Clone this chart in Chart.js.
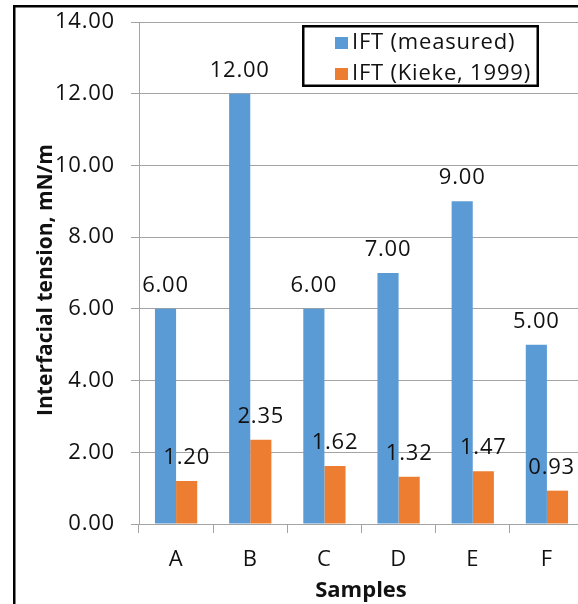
<!DOCTYPE html>
<html>
<head>
<meta charset="utf-8">
<script src="https://cdn.jsdelivr.net/npm/chart.js@4"></script>
<style>
  html, body { margin: 0; padding: 0; overflow: hidden; background: #fff; width: 578px; height: 604px; }
  canvas { display: block; }
</style>
</head>
<body>
<canvas id="c" width="600" height="604"></canvas>
<script>
// Interfacial tension per sample: measured vs. Kieke (1999) correlation
const samples = ['A', 'B', 'C', 'D', 'E', 'F'];
const measured = [6.00, 12.00, 6.00, 7.00, 9.00, 5.00];
const kieke = [1.20, 2.35, 1.62, 1.32, 1.47, 0.93];
const yTicks = [0, 2, 4, 6, 8, 10, 12, 14];
const seriesNames = ['IFT (measured)', 'IFT (Kieke, 1999)'];
const axisTitles = { x: 'Samples', y: 'Interfacial tension, mN/m' };

const FONT = "'Open Sans', sans-serif";
const TEXT = '#111';
const GRID = '#a3a3a3';
const SPACING = '0.8px';

// slightly open letter spacing for the chart text
const textSpacing = {
  id: 'textSpacing',
  beforeUpdate(chart) { chart.ctx.letterSpacing = SPACING; },
  beforeDraw(chart) { chart.ctx.letterSpacing = SPACING; }
};

// value written above each bar
const valueLabels = {
  id: 'valueLabels',
  afterDatasetsDraw(chart) {
    const ctx = chart.ctx;
    ctx.save();
    ctx.letterSpacing = SPACING;
    ctx.font = `22px ${FONT}`;
    ctx.fillStyle = TEXT;
    ctx.textAlign = 'center';
    ctx.textBaseline = 'alphabetic';
    chart.data.datasets.forEach((ds, i) => {
      chart.getDatasetMeta(i).data.forEach((bar, j) => {
        const txt = ds.data[j].toFixed(2);
        const w = ctx.measureText(txt).width;
        const x = Math.min(bar.x, 575 - w / 2);
        ctx.fillText(txt, x, bar.y - 17);
      });
    });
    ctx.restore();
  }
};

// axis titles
const axisTitleText = {
  id: 'axisTitleText',
  afterDraw(chart) {
    const ctx = chart.ctx;
    const area = chart.chartArea;
    ctx.save();
    ctx.letterSpacing = '0px';
    ctx.fillStyle = TEXT;
    ctx.textAlign = 'center';
    ctx.textBaseline = 'alphabetic';
    ctx.font = `bold 22px ${FONT}`;
    ctx.fillText(axisTitles.x, 361, 597);
    ctx.font = `bold 21px ${FONT}`;
    ctx.translate(52, 280);
    ctx.rotate(-Math.PI / 2);
    ctx.fillText(axisTitles.y, 0, 0);
    ctx.restore();
  }
};

// boxed legend in the upper right of the plot
const boxedLegend = {
  id: 'boxedLegend',
  afterDraw(chart) {
    const ctx = chart.ctx;
    const x0 = 302, y0 = 25, w = 237, h = 62;
    ctx.save();
    ctx.fillStyle = '#fff';
    ctx.fillRect(x0, y0, w, h);
    ctx.lineWidth = 2.5;
    ctx.strokeStyle = '#000';
    ctx.strokeRect(x0 + 1.25, y0 + 1.25, w - 2.5, h - 2.5);
    ctx.letterSpacing = SPACING;
    ctx.font = `22px ${FONT}`;
    ctx.textAlign = 'left';
    ctx.textBaseline = 'alphabetic';
    chart.data.datasets.forEach((ds, i) => {
      const dy = i * 31;
      ctx.fillStyle = ds.backgroundColor;
      ctx.fillRect(335, 37 + dy, 13, 12);
      ctx.fillStyle = TEXT;
      ctx.fillText(ds.label, 352, 49 + dy);
    });
    ctx.restore();
  }
};

// outer chart frame (its right and bottom edges lie past the page)
const outerFrame = {
  id: 'outerFrame',
  afterDraw(chart) {
    const ctx = chart.ctx;
    ctx.save();
    ctx.lineWidth = 2.5;
    ctx.strokeStyle = '#000';
    ctx.strokeRect(14.25, 6.25, 1000, 1000);
    ctx.restore();
  }
};

new Chart(document.getElementById('c'), {
  type: 'bar',
  data: {
    labels: samples,
    datasets: [
      { label: seriesNames[0], data: measured, backgroundColor: '#5B9BD5', borderWidth: 0 },
      { label: seriesNames[1], data: kieke, backgroundColor: '#ED7D31', borderWidth: 0 }
    ]
  },
  options: {
    responsive: false,
    animation: false,
    devicePixelRatio: 1,
    layout: { padding: { top: 22, right: 16, left: 0, bottom: 0 } },
    datasets: { bar: { categoryPercentage: 0.57, barPercentage: 1.0 } },
    plugins: {
      legend: { display: false },
      tooltip: { enabled: false }
    },
    scales: {
      x: {
        offset: true,
        afterFit(s) { s.height = 80; s.paddingLeft = 0; s.paddingRight = 0; },
        grid: { display: true, drawOnChartArea: false, drawTicks: true, tickLength: 9, color: GRID, offset: true },
        border: { display: true, color: GRID, width: 1 },
        ticks: { color: TEXT, font: { family: FONT, size: 22 }, padding: 14, maxRotation: 0 }
      },
      y: {
        min: 0,
        max: 14,
        afterFit(s) { s.width = 139; s.paddingTop = 0; s.paddingBottom = 0; },
        afterBuildTicks(s) { s.ticks = yTicks.map(v => ({ value: v })); },
        grid: { color: GRID, lineWidth: 1, drawTicks: true, tickLength: 8 },
        border: { display: true, color: GRID, width: 1 },
        ticks: { color: TEXT, font: { family: FONT, size: 22 }, padding: 16, callback: v => Number(v).toFixed(2) }
      }
    }
  },
  plugins: [textSpacing, valueLabels, axisTitleText, boxedLegend, outerFrame]
});
</script>
</body>
</html>
